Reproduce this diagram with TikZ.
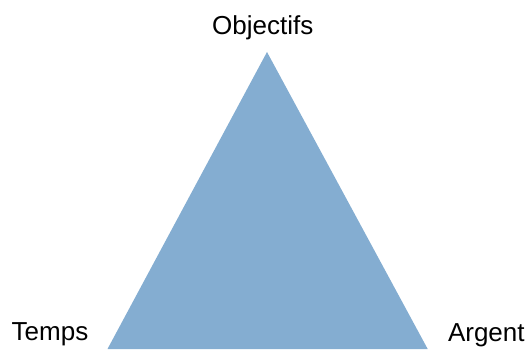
\documentclass[tikz,border=0pt]{standalone}
\usepackage{fontspec}
\setmainfont{Liberation Sans}
\definecolor{triblue}{RGB}{132,173,209}
\begin{document}
\begin{tikzpicture}[x=1pt,y=1pt,
  lbl/.style={anchor=base,inner sep=0pt,font=\fontsize{26}{31}\selectfont}]
\useasboundingbox (0,0) rectangle (528,349);
% triangle
\fill[triblue] (267,297) -- (427.7,0) -- (107.5,0) -- cycle;
% corner labels
\node[lbl] (obj) at (262.8,314.7) {Objectifs};
\node[lbl] (temps) at (50,8.7) {Temps};
\node[lbl] (argent) at (486.3,7.7) {Argent};
\end{tikzpicture}
\end{document}
